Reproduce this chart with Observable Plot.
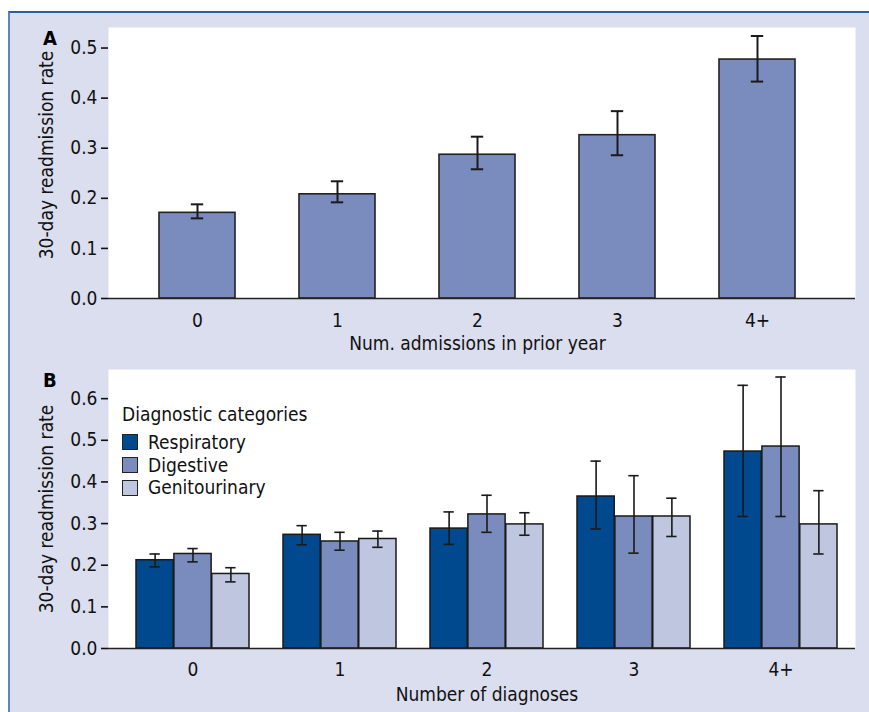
<!DOCTYPE html>
<html>
<head>
<meta charset="utf-8">
<script src="https://cdn.jsdelivr.net/npm/d3@7"></script>
<script src="https://cdn.jsdelivr.net/npm/@observablehq/plot@0.6"></script>
<style>
  body { margin: 0; background: white; }
  #page { position: relative; width: 869px; height: 712px; overflow: hidden; background: white;
    font-family: "Liberation Sans Narrow", "DejaVu Sans Condensed", "Roboto Condensed", sans-serif; font-stretch: condensed; }
  #panel { position: absolute; left: 8px; top: 11px; right: 0; bottom: 0; background: #dbdeee;
    border-top: 2px solid #2f5e9e; border-left: 2px solid #5a86bb; }
  .plotbox { position: absolute; left: 0; }
  .letter { position: absolute; font-weight: bold; font-size: 20px; line-height: 1; }
  #legend { position: absolute; left: 122px; top: 405px; font-size: 19px; line-height: 1; color: #111; }
  #legend .row { display: flex; align-items: center; height: 22.8px; }
  #legend .sw { width: 14px; height: 14px; border: 1.3px solid #222; margin-right: 10px; }
  #legend .title { height: 26px; }
</style>
</head>
<body>
<div id="page">
  <div id="panel"></div>
  <div id="a" class="plotbox" style="top:0"></div>
  <div id="b" class="plotbox" style="top:360px"></div>
  <div class="letter" style="left:43px;top:28px">A</div>
  <div class="letter" style="left:43px;top:370px">B</div>
  <div id="legend"></div>
</div>
<script>
// ---- Panel A data ----
const catsA = ["0", "1", "2", "3", "4+"];
const rateA = [0.171, 0.208, 0.287, 0.326, 0.477];
const loA   = [0.160, 0.192, 0.258, 0.286, 0.433];
const hiA   = [0.188, 0.234, 0.323, 0.374, 0.524];
const yTicksA = [0, 0.1, 0.2, 0.3, 0.4, 0.5];

// ---- Panel B data ----
const catsB = ["0", "1", "2", "3", "4+"];
const seriesB = ["Respiratory", "Digestive", "Genitourinary"];
const respRate = [0.212, 0.273, 0.288, 0.365, 0.473];
const respLo   = [0.196, 0.249, 0.250, 0.287, 0.317];
const respHi   = [0.227, 0.295, 0.328, 0.450, 0.632];
const digRate  = [0.227, 0.257, 0.322, 0.317, 0.485];
const digLo    = [0.208, 0.236, 0.279, 0.229, 0.317];
const digHi    = [0.240, 0.279, 0.368, 0.415, 0.652];
const genRate  = [0.179, 0.263, 0.298, 0.317, 0.298];
const genLo    = [0.160, 0.243, 0.272, 0.269, 0.227];
const genHi    = [0.194, 0.282, 0.326, 0.361, 0.379];
const yTicksB = [0, 0.1, 0.2, 0.3, 0.4, 0.5, 0.6];

const colorsB = ["#00498f", "#7a8bbd", "#bfc6e0"];
const colorA = "#7a8bbd";

const font = '"Liberation Sans Narrow", "DejaVu Sans Condensed", "Roboto Condensed", sans-serif';
const ylabel = "30-day readmission rate";

const dataA = catsA.map((c, i) => ({cat: c, rate: rateA[i], lo: loA[i], hi: hiA[i]}));
const seriesVals = [[respRate, respLo, respHi], [digRate, digLo, digHi], [genRate, genLo, genHi]];

const W = 869;
const style = {background: "transparent", fontFamily: font, fontSize: "19px", fontStretch: "condensed", color: "#111"};

// Panel A
const rangeA = [158.3, 794.3], padA = 0.46;
const bwA = (rangeA[1] - rangeA[0]) / (catsA.length - padA) * (1 - padA);
const capA = 12;
const plotA = Plot.plot({
  width: W, height: 360,
  marginLeft: 108, marginRight: 14, marginTop: 27, marginBottom: 62,
  style,
  x: {domain: catsA, range: rangeA, paddingInner: padA, paddingOuter: 0},
  y: {domain: [0, 0.541]},
  marks: [
    Plot.frame({fill: "white", stroke: "none"}),
    Plot.barY(dataA, {x: "cat", y: "rate", fill: colorA, stroke: "#222", strokeWidth: 1.6}),
    Plot.ruleX(dataA, {x: "cat", y1: "lo", y2: "hi", stroke: "#1a1a1a", strokeWidth: 2}),
    Plot.tickY(dataA, {x: "cat", y: "lo", stroke: "#1a1a1a", strokeWidth: 2, insetLeft: (bwA - capA) / 2, insetRight: (bwA - capA) / 2}),
    Plot.tickY(dataA, {x: "cat", y: "hi", stroke: "#1a1a1a", strokeWidth: 2, insetLeft: (bwA - capA) / 2, insetRight: (bwA - capA) / 2}),
    Plot.ruleY([0], {stroke: "#222", strokeWidth: 1.6}),
    Plot.axisY({ticks: yTicksA, tickFormat: d3.format(".1f"), tickSize: 7, tickPadding: 4, line: true, strokeWidth: 1.6, label: null}),
    Plot.text([ylabel], {frameAnchor: "left", textAnchor: "middle", rotate: -90, dx: -62, dy: -8, fontSize: 19}),
    Plot.axisX({tickSize: 0, tickPadding: 15, label: null}),
    Plot.text(["Num. admissions in prior year"], {x: () => catsA[2], frameAnchor: "bottom", lineAnchor: "top", dy: 38, fontSize: 19})
  ]
});
document.getElementById("a").appendChild(plotA);

// Panel B
const rangeB = [135, 838.3], padB = 0.229;
const bwB = (rangeB[1] - rangeB[0]) / (catsB.length - padB) * (1 - padB);
const sub = bwB / seriesB.length;
const capB = 11;
const dataB = seriesB.map((s, k) => catsB.map((c, i) => ({
  cat: c, series: s, rate: seriesVals[k][0][i], lo: seriesVals[k][1][i], hi: seriesVals[k][2][i]
})));

const seriesMarks = dataB.flatMap((d, k) => {
  const inL = k * sub, inR = (seriesB.length - 1 - k) * sub;
  const off = (k - (seriesB.length - 1) / 2) * sub;
  return [
    Plot.barY(d, {x: "cat", y: "rate", fill: colorsB[k], stroke: "#1a1a1a", strokeWidth: 1.5, insetLeft: inL, insetRight: inR}),
    Plot.ruleX(d, {x: "cat", y1: "lo", y2: "hi", dx: off, stroke: "#1a1a1a", strokeWidth: 1.6}),
    Plot.tickY(d, {x: "cat", y: "lo", stroke: "#1a1a1a", strokeWidth: 1.6, insetLeft: inL + (sub - capB) / 2, insetRight: inR + (sub - capB) / 2}),
    Plot.tickY(d, {x: "cat", y: "hi", stroke: "#1a1a1a", strokeWidth: 1.6, insetLeft: inL + (sub - capB) / 2, insetRight: inR + (sub - capB) / 2})
  ];
});

const plotB = Plot.plot({
  width: W, height: 352,
  marginLeft: 108, marginRight: 14, marginTop: 9, marginBottom: 64,
  style,
  x: {domain: catsB, range: rangeB, paddingInner: padB, paddingOuter: 0},
  y: {domain: [0, 0.670]},
  marks: [
    Plot.frame({fill: "white", stroke: "none"}),
    ...seriesMarks,
    Plot.ruleY([0], {stroke: "#222", strokeWidth: 1.6}),
    Plot.axisY({ticks: yTicksB, tickFormat: d3.format(".1f"), tickSize: 7, tickPadding: 4, line: true, strokeWidth: 1.6, label: null}),
    Plot.text([ylabel], {frameAnchor: "left", textAnchor: "middle", rotate: -90, dx: -62, fontSize: 19}),
    Plot.axisX({tickSize: 0, tickPadding: 14, label: null}),
    Plot.text(["Number of diagnoses"], {x: () => catsB[2], frameAnchor: "bottom", lineAnchor: "top", dy: 39, fontSize: 19})
  ]
});
document.getElementById("b").appendChild(plotB);

// Legend (inside panel B)
const legend = document.getElementById("legend");
const t = document.createElement("div");
t.className = "title";
t.textContent = "Diagnostic categories";
legend.appendChild(t);
seriesB.forEach((s, k) => {
  const row = document.createElement("div");
  row.className = "row";
  const sw = document.createElement("div");
  sw.className = "sw";
  sw.style.background = colorsB[k];
  const lab = document.createElement("span");
  lab.textContent = s;
  row.appendChild(sw);
  row.appendChild(lab);
  legend.appendChild(row);
});
</script>
</body>
</html>
